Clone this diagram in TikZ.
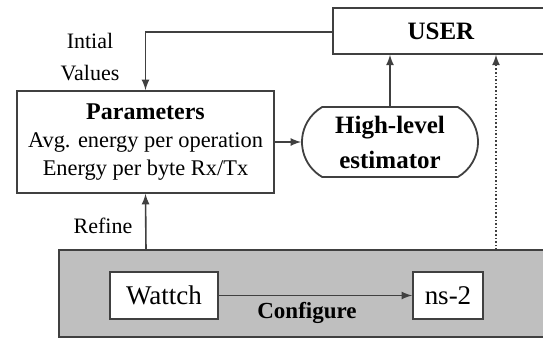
\documentclass[tikz,border=0pt]{standalone}
\usepackage{fontspec}
\setmainfont{Liberation Serif}
\usetikzlibrary{shapes.misc,arrows}

\begin{document}
\begin{tikzpicture}[x=0.5pt,y=-0.5pt,
  box/.style={draw=black!75,line width=0.9pt,fill=white,inner sep=0pt},
  conn/.style={draw=black!75,line width=0.8pt,-latex},
  lbl/.style={inner sep=0pt,font=\fontsize{11}{16}\selectfont,align=center}]
\useasboundingbox (0,0) rectangle (543,339);
\fill [white] (0,0) rectangle (543,339);
% simulator block
\draw [black!75,line width=0.9pt,fill=black!25] (59,250) rectangle (550,337);
\node [box,minimum width=216*0.5pt,minimum height=46*0.5pt,anchor=north west] (user) at (332,7) {\fontsize{12.5}{14}\selectfont\bfseries USER};
\node [box,minimum width=257*0.5pt,minimum height=102*0.5pt,align=center,font=\fontsize{11.2}{14.2}\selectfont] (param) at (145.5,142)
  {{\fontsize{12}{14.2}\selectfont\bfseries Parameters}\\
   Avg. energy per operation\\
   Energy per byte Rx/Tx};
\node [box,rounded rectangle,rounded rectangle arc length=120,minimum width=176*0.5pt,minimum height=70*0.5pt,
  align=center,font=\fontsize{12.5}{17.5}\selectfont\bfseries] (est) at (390,142) {High-level\\estimator};
\node [box,minimum width=108*0.5pt,minimum height=47*0.5pt,font=\fontsize{13.5}{16}\selectfont] (wattch) at (164,295.5) {Wattch};
\node [box,minimum width=70*0.5pt,minimum height=47*0.5pt,font=\fontsize{13.5}{16}\selectfont] (ns) at (448,295.5) {ns-2};
\coordinate (gtopl) at (146,250);
\coordinate (gtopr) at (496,250);
% connectors
\draw [conn] (user.west |- 0,32) -| (param.north);
\draw [conn] (gtopl) -- (param.south);
\draw [conn] (param.east |- est.west) -- (est.west);
\draw [conn] (est.north) -- (est.north |- user.south);
\draw [conn,densely dotted] (gtopr) -- (gtopr |- user.south);
\draw [conn] (wattch.east) -- (ns.west);
% labels
\node [lbl] (ival) at (90,57) {Intial\\Values};
\node [lbl] (refine) at (103,226) {Refine};
\node [lbl,font=\fontsize{11.5}{14}\selectfont\bfseries] (cfg) at (307,313) {Configure};
\end{tikzpicture}
\end{document}
